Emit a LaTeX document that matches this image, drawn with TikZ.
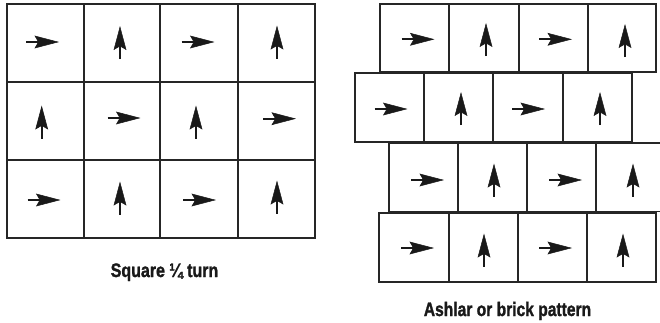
\documentclass[tikz,border=0pt]{standalone}
\usepackage{fontspec}
\usepackage{graphicx}
\newfontfamily\labfont{Liberation Sans Bold}[FakeBold=1.6]
\begin{document}
\begin{tikzpicture}[x=1pt,y=-1pt,
  cell/.style={draw=black!85,line width=1.5pt},
  gridline/.style={draw=black!85,line width=1.6pt},
  shaft/.style={line width=1.7pt,draw=black!90},
  head/.style={fill=black!90,draw=black!90,line width=0.5pt,line join=miter},
  lab/.style={font=\labfont\fontsize{19.5}{22}\selectfont,text=black!90,anchor=base,inner sep=0pt}]
\useasboundingbox (0,0) rectangle (660,322);
\clip (0,0) rectangle (660,322);
\newcommand\rarr[2]{%
  \draw[shaft] ({#1-16},#2) -- ({#1-2},#2);
  \filldraw[head] ({#1+16},#2) -- ({#1-7},{#2-6}) -- ({#1-3.5},#2) -- ({#1-7},{#2+6}) -- cycle;}
\newcommand\uarr[2]{%
  \draw[shaft] (#1,{#2+16}) -- (#1,{#2+2});
  \filldraw[head] (#1,{#2-16}) -- ({#1-6},{#2+6.5}) -- (#1,{#2+3}) -- ({#1+6},{#2+6.5}) -- cycle;}
% left grid
\draw[gridline] (7,4) rectangle (315,238);
\foreach \x in {84,160,238} \draw[gridline] (\x,4) -- (\x,238);
\foreach \y in {82,160} \draw[gridline] (7,\y) -- (315,\y);
\rarr{42}{42} \uarr{120}{43} \rarr{197.5}{42} \uarr{277}{42.5}
\uarr{41.7}{122.5} \rarr{123.5}{118} \uarr{196}{122.5} \rarr{279}{118.7}
\rarr{43.5}{200} \uarr{120}{198.5} \rarr{199}{200} \uarr{277}{197.5}
\node[lab] (sq) at (164.5,277) {\scalebox{0.82}[1]{Square ¼ turn}};
% right brick pattern
\foreach \a/\b in {380/449,449/519,519/588,588/656} \draw[cell] (\a,4) rectangle (\b,72);
\foreach \a/\b in {355/424,424/493,493/563,563/632} \draw[cell] (\a,73) rectangle (\b,142);
\foreach \a/\b in {389/458,458/527,527/596,596/668} \draw[cell] (\a,143) rectangle (\b,211.5);
\foreach \a/\b in {379/449,449/518,518/587,587/656} \draw[cell] (\a,213) rectangle (\b,282);
\rarr{417.5}{39.3} \uarr{486}{40} \rarr{555}{39.3} \uarr{625}{41}
\rarr{390.5}{109} \uarr{461}{109} \rarr{528}{109} \uarr{600}{109}
\rarr{427}{180} \uarr{494}{180.5} \rarr{565}{180} \uarr{633}{180.5}
\rarr{417}{248} \uarr{484}{250.5} \rarr{555}{248} \uarr{623}{250.5}
\node[lab] (ash) at (507.5,316) {\scalebox{0.8}[1]{Ashlar or brick pattern}};
\end{tikzpicture}
\end{document}
